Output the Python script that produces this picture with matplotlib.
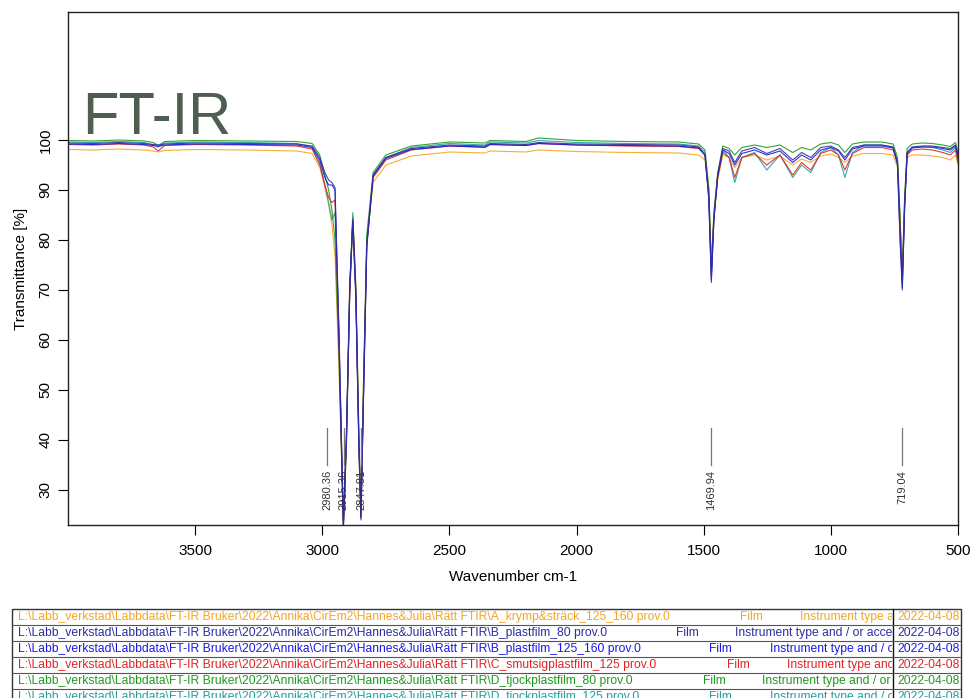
"""
FT-IR transmittance spectra of six plastic film samples with peak labels
and the sample table underneath.
"""
import matplotlib
matplotlib.use("Agg")
import matplotlib.pyplot as plt
from matplotlib.patches import Rectangle

plt.rcParams['font.family'] = ['Liberation Sans', 'DejaVu Sans']

# ===== data =====
wavenumber = [4000, 3900, 3800, 3700, 3665, 3645, 3620, 3500, 3300, 3100,
              3040, 3010, 2990, 2975, 2962, 2950, 2935, 2917, 2905, 2892,
              2880, 2868, 2856, 2848, 2838, 2825, 2800, 2750, 2650, 2500,
              2360, 2340, 2200, 2150, 2000, 1800, 1600, 1520, 1495, 1480,
              1470, 1460, 1445, 1425, 1400, 1378, 1350, 1300, 1252, 1200,
              1150, 1115, 1079, 1040, 1000, 970, 945, 915, 870, 800,
              755, 738, 728, 719, 710, 700, 680, 640, 600, 560,
              530, 510, 500]

t_a_krymp = [98.1, 98.0, 98.2, 98.0, 97.8, 97.6, 97.9, 98.1, 98.0, 97.8,
             97.3, 94.5, 90.5, 87.0, 83.0, 77.0, 55.0, 24.0, 41.5, 71.5,
             85.0, 71.0, 42.0, 26.0, 52.0, 80.0, 91.5, 95.0, 96.8, 97.6,
             97.4, 97.8, 97.6, 98.0, 97.7, 97.5, 97.4, 97.0, 96.0, 89.5,
             75.0, 85.0, 92.0, 97.0, 96.5, 94.5, 96.5, 97.0, 96.0, 96.8,
             95.0, 96.2, 95.5, 96.8, 97.2, 96.5, 95.5, 96.8, 97.3, 97.3,
             97.0, 94.5, 84.5, 73.5, 87.5, 96.5, 97.0, 97.0, 96.8, 96.5,
             96.0, 97.0, 95.0]

t_b_80 = [99.4, 99.3, 99.5, 99.3, 99.1, 99.0, 99.2, 99.4, 99.3, 99.2,
          98.8, 96.5, 93.5, 92.0, 91.5, 90.5, 63.0, 23.5, 41.0, 71.0,
          83.5, 68.0, 38.0, 24.0, 48.0, 78.5, 93.0, 96.5, 98.3, 99.0,
          98.8, 99.3, 99.1, 99.5, 99.2, 99.1, 99.0, 98.6, 97.0, 88.0,
          71.5, 84.0, 93.0, 98.3, 97.8, 95.5, 97.8, 98.5, 97.3, 98.3,
          96.0, 97.5, 96.5, 98.5, 98.8, 98.0, 96.5, 98.5, 99.0, 99.0,
          98.6, 95.0, 80.0, 70.0, 86.0, 97.5, 98.6, 98.8, 98.8, 98.5,
          98.3, 99.0, 97.0]

t_b_125 = [99.2, 99.1, 99.3, 99.1, 98.9, 98.7, 99.0, 99.2, 99.1, 99.0,
           98.5, 96.0, 92.5, 91.0, 91.0, 90.0, 62.0, 23.0, 40.5, 70.5,
           84.0, 69.0, 39.0, 24.5, 48.5, 79.0, 92.8, 96.3, 98.1, 98.8,
           98.6, 99.1, 98.9, 99.3, 99.0, 98.9, 98.8, 98.4, 97.0, 88.5,
           72.0, 84.0, 92.8, 98.0, 97.3, 95.0, 97.3, 98.0, 97.0, 97.8,
           95.5, 97.0, 96.0, 98.0, 98.5, 97.8, 96.0, 98.2, 98.8, 98.8,
           98.4, 95.5, 81.0, 70.5, 86.5, 97.3, 98.4, 98.6, 98.6, 98.3,
           98.0, 98.8, 96.5]

t_c_smutsig = [99.1, 99.0, 99.2, 99.0, 98.6, 97.8, 98.9, 99.1, 99.0, 98.8,
               98.2, 95.0, 91.0, 88.5, 87.5, 88.0, 60.0, 22.5, 40.0, 69.0,
               84.0, 69.0, 39.0, 24.5, 49.0, 79.0, 92.5, 96.0, 98.0, 98.8,
               98.5, 99.1, 98.9, 99.3, 99.0, 98.8, 98.7, 98.3, 97.0, 89.0,
               73.0, 84.5, 92.5, 97.5, 96.5, 92.5, 96.5, 97.3, 95.0, 97.0,
               93.0, 95.5, 94.0, 97.3, 98.0, 97.0, 94.0, 97.3, 98.5, 98.5,
               98.0, 95.5, 83.0, 71.5, 87.0, 97.0, 98.0, 98.2, 98.0, 97.5,
               97.0, 98.0, 95.5]

t_d_80 = [99.9, 99.8, 100.0, 99.8, 99.5, 98.9, 99.7, 99.9, 99.8, 99.7,
          99.3, 97.0, 93.0, 90.0, 86.0, 80.0, 58.0, 22.0, 39.0, 69.5,
          84.5, 70.5, 40.5, 25.5, 51.0, 81.0, 93.5, 97.0, 98.8, 99.6,
          99.4, 99.9, 99.7, 100.4, 99.9, 99.7, 99.6, 99.2, 98.0, 90.5,
          74.5, 85.5, 93.5, 98.8, 98.3, 97.0, 98.5, 99.0, 98.5, 99.0,
          97.5, 98.5, 98.0, 99.2, 99.5, 99.0, 97.5, 99.2, 99.6, 99.6,
          99.2, 96.5, 85.0, 73.0, 88.5, 98.3, 99.2, 99.4, 99.3, 99.0,
          98.7, 99.5, 97.5]

t_d_125 = [99.6, 99.5, 99.7, 99.5, 99.0, 98.6, 99.4, 99.6, 99.5, 99.3,
           98.6, 95.5, 91.0, 87.5, 84.0, 85.5, 62.0, 23.0, 40.0, 70.0,
           85.5, 70.0, 40.0, 25.0, 50.0, 80.0, 93.0, 96.5, 98.5, 99.3,
           99.0, 99.6, 99.4, 99.9, 99.5, 99.3, 99.2, 98.8, 97.5, 90.0,
           74.0, 85.0, 93.0, 98.0, 96.5, 91.5, 96.5, 97.5, 94.0, 97.0,
           92.5, 95.0, 93.5, 97.5, 98.5, 97.0, 92.5, 97.5, 99.0, 99.0,
           98.5, 96.0, 84.0, 72.0, 88.0, 97.5, 98.5, 98.7, 98.5, 98.0,
           97.5, 98.5, 96.0]

peak_wn = [2980.36, 2915.36, 2847.81, 1469.94, 719.04]
peak_labels = ["2980.36", "2915.36", "2847.81", "1469.94", "719.04"]

x_ticks = [3500, 3000, 2500, 2000, 1500, 1000, 500]
y_ticks = [30, 40, 50, 60, 70, 80, 90, 100]

prefix = r"L:\Labb_verkstad\Labbdata\FT-IR Bruker\2022\Annika\CirEm2\Hannes&Julia\Rätt FTIR"
sample_names = ["A_krymp&sträck_125_160 prov.0",
                "B_plastfilm_80 prov.0",
                "B_plastfilm_125_160 prov.0",
                "C_smutsigplastfilm_125 prov.0",
                "D_tjockplastfilm_80 prov.0",
                "D_tjockplastfilm_125 prov.0"]
sample_date = "2022-04-08"
instrument_text = "Instrument type and / or accessory"

colors = ["#F5A623", "#2E2E9E", "#1A1AE6", "#E02424", "#1E9A1E", "#20A0A0"]
spectra = [t_a_krymp, t_b_80, t_b_125, t_c_smutsig, t_d_80, t_d_125]

# ===== chart =====
fig = plt.figure(figsize=(9.72, 6.98), dpi=100)
ax = fig.add_axes([68 / 972, (698 - 525) / 698, 890 / 972, 513 / 698])

draw_order = [0, 5, 4, 3, 2, 1]
for i in draw_order:
    ax.plot(wavenumber, spectra[i], color=colors[i], lw=0.8, alpha=0.9)

for wn, lab in zip(peak_wn, peak_labels):
    ax.plot([wn, wn], [35.0, 42.4], color="#777777", lw=0.9)
    ax.text(wn, 34.0, lab, rotation=90, ha="center", va="top",
            fontsize=8, color="#333333")

ax.text(3945, 101.3, "FT-IR", fontsize=43, color="#4E5E50", ha="left", va="baseline")

ax.set_xlim(4000, 500)
ax.set_ylim(23, 125.6)
ax.set_xticks(x_ticks)
ax.set_yticks(y_ticks)
ax.tick_params(axis="y", labelrotation=90, length=7, labelsize=11, pad=4)
ax.tick_params(axis="x", length=7, labelsize=11, pad=7)
for lab in ax.get_yticklabels():
    lab.set_va("center")
ax.set_xlabel("Wavenumber cm-1", fontsize=11, labelpad=8)
ax.set_ylabel("Transmittance [%]", fontsize=11, labelpad=8)
for s in ax.spines.values():
    s.set_linewidth(1.0)
    s.set_color("#222222")

# ===== sample table =====
tab = fig.add_axes([0, 0, 1, 1])
tab.set_xlim(0, 972)
tab.set_ylim(698, 0)
tab.axis("off")

row_y = [617, 633, 649, 665, 681, 697]
film_x = [740, 676, 709, 727, 703, 709]
inst_x = [800, 735, 770, 787, 762, 770]
col_split = 893
right_edge = 961
fs = 8.75

tab.add_patch(Rectangle((12, 609), right_edge - 12, 100, fill=False,
                        edgecolor="#333333", lw=1.0))
tab.plot([col_split, col_split], [609, 698], color="#111111", lw=1.0)
for y in row_y[:-1]:
    tab.plot([12, right_edge], [y + 8, y + 8], color="#555555", lw=0.8)

for i, name in enumerate(sample_names):
    y = row_y[i]
    c = colors[i]
    tab.text(18, y, prefix + "\\" + name, fontsize=fs, color=c, va="center")
    tab.text(film_x[i], y, "Film", fontsize=fs, color=c, va="center")
    inst_clip = Rectangle((0, 600), col_split - 1, 100, transform=tab.transData)
    t = tab.text(inst_x[i], y, instrument_text, fontsize=fs, color=c, va="center")
    t.set_clip_path(inst_clip)
    t.set_clip_on(True)
    date_clip = Rectangle((col_split, 600), right_edge - col_split, 100,
                          transform=tab.transData)
    d = tab.text(col_split + 4, y, sample_date, fontsize=fs, color=c, va="center")
    d.set_clip_path(date_clip)
    d.set_clip_on(True)

plt.savefig("out.png", dpi=100)
plt.close()
